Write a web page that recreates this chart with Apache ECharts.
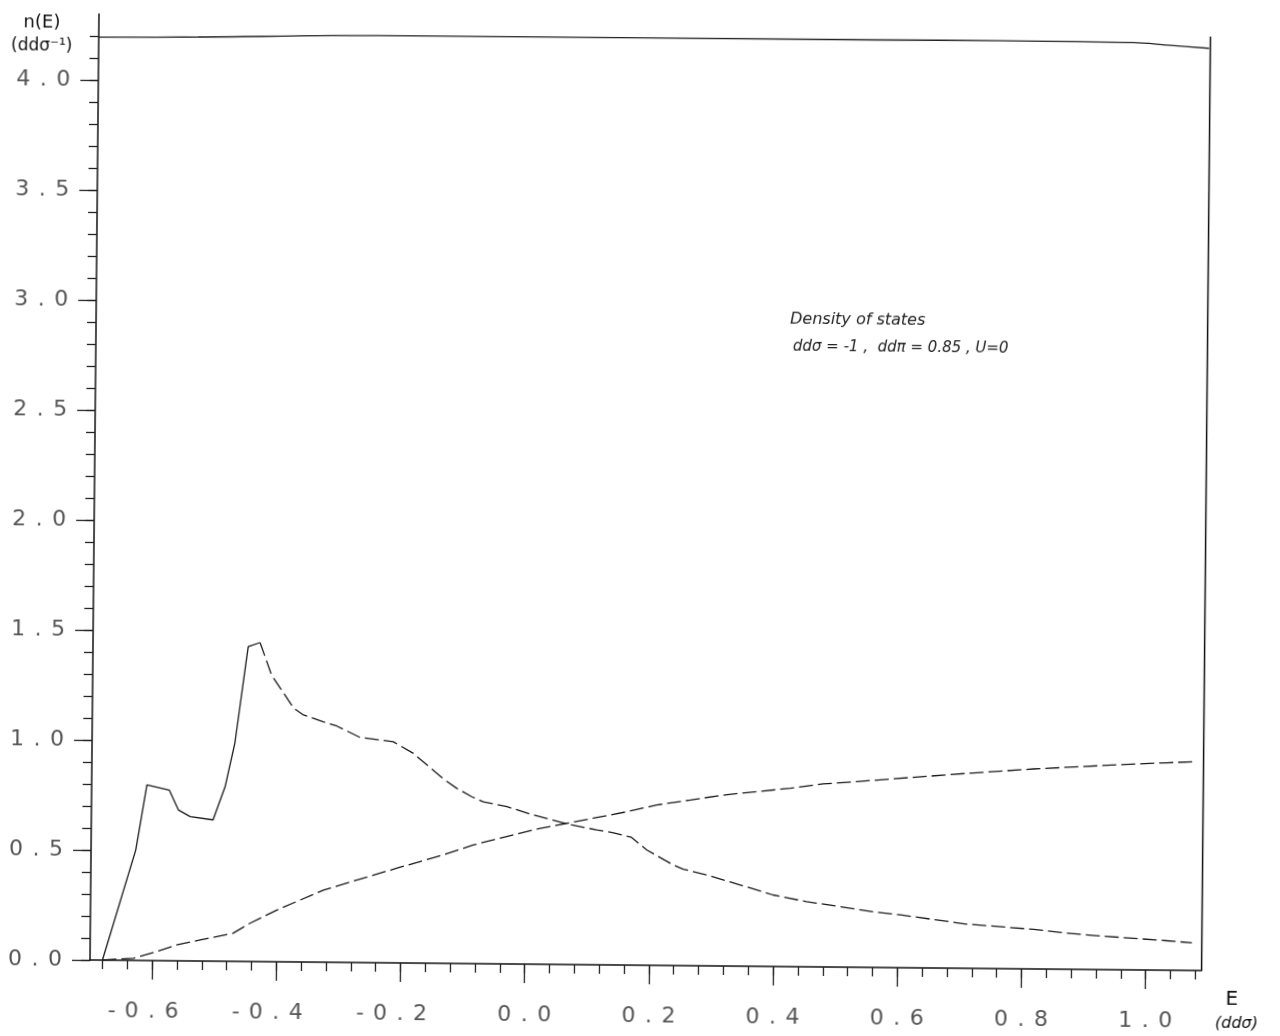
<!DOCTYPE html>
<html>
<head>
<meta charset="utf-8">
<script src="https://cdn.jsdelivr.net/npm/echarts@6/dist/echarts.min.js"></script>
<style>
html,body{margin:0;padding:0;background:#fff;overflow:hidden;}
#chart{width:1280px;height:1036px;transform:rotate(0.544deg);transform-origin:90px 960px;}
</style>
</head>
<body>
<div id="chart"></div>
<script>
// ---- data ----
const energy1 = [-0.680,-0.628,-0.611,-0.575,-0.560,-0.541,-0.504,-0.485,-0.470,-0.450,-0.431,-0.412,-0.376,-0.360,-0.328,-0.306,-0.269,-0.215,-0.183,-0.133,-0.112,-0.088,-0.069,-0.031,0.012,0.066,0.114,0.141,0.170,0.195,0.238,0.254,0.292,0.346,0.399,0.453,0.507,0.561,0.604,0.711,0.819,0.872,0.926,1.033,1.074];
const dos1    = [0.000,0.502,0.798,0.776,0.686,0.656,0.642,0.794,0.993,1.431,1.450,1.303,1.154,1.123,1.093,1.074,1.024,1.005,0.954,0.837,0.796,0.759,0.736,0.715,0.678,0.639,0.613,0.601,0.581,0.524,0.457,0.438,0.413,0.369,0.325,0.296,0.275,0.253,0.240,0.201,0.180,0.164,0.153,0.134,0.126];
const peakIndex = 10;

const energy2 = [-0.680,-0.630,-0.593,-0.561,-0.523,-0.470,-0.443,-0.400,-0.325,-0.208,-0.133,-0.085,-0.031,0.023,0.066,0.108,0.162,0.210,0.264,0.317,0.371,0.425,0.478,0.532,0.586,0.709,0.816,0.924,1.031,1.074];
const dos2    = [0.000,0.010,0.041,0.072,0.096,0.128,0.174,0.235,0.328,0.430,0.493,0.539,0.579,0.618,0.642,0.666,0.697,0.729,0.753,0.777,0.794,0.811,0.832,0.844,0.857,0.886,0.909,0.927,0.943,0.949];

const energyTop = [-0.700,-0.540,-0.250,0.550,0.751,0.966,1.020,1.088];
const valueTop  = [4.195,4.200,4.214,4.216,4.218,4.215,4.205,4.192];

const frameEnergy = 1.09;
const frameTop = 4.245;

const xMajorTicks = [-0.6,-0.4,-0.2,0.0,0.2,0.4,0.6,0.8,1.0];
const yMajorTicks = [0.0,0.5,1.0,1.5,2.0,2.5,3.0,3.5,4.0];
const xMin = -0.7, xMax = 1.09, yMin = 0, yMax = 4.3;

// ---- helpers ----
const zip = (a, b) => a.map((v, i) => [v, b[i]]);
const xMinor = []; for (let i = -17; i <= 27; i++) xMinor.push(Math.round(i * 4) / 100);
const yMinor = []; for (let i = 0; i <= 42; i++) yMinor.push(i / 10);

function spaced(v) {
  const s = Number(v).toFixed(1);
  let out = '';
  for (const ch of s) out += '{c|' + ch + '}';
  if (s[0] === '-') out += '{c| }';
  return out;
}
const labelRich = { c: { width: 20, align: 'center', fontSize: 22, fontFamily: 'DejaVu Sans', color: '#555' } };

const ink = '#1a1a1a';
const axisLine = { show: true, onZero: false, lineStyle: { color: '#111', width: 1.5 } };
const tickStyle = { color: '#222', width: 1.3 };

const curve1 = zip(energy1, dos1);

const option = {
  animation: false,
  backgroundColor: '#fff',
  grid: { left: 90, top: 14, width: 1111.6, height: 946, containLabel: false, outerBoundsMode: 'none' },
  xAxis: [
    { type: 'value', min: xMin, max: xMax, position: 'bottom', axisLine: axisLine,
      axisTick: { show: true, inside: false, length: 9, customValues: xMinor, lineStyle: tickStyle },
      axisLabel: { show: false }, splitLine: { show: false } },
    { type: 'value', min: xMin, max: xMax, position: 'bottom', axisLine: { show: false, onZero: false },
      axisTick: { show: true, inside: false, length: 19, customValues: xMajorTicks, lineStyle: tickStyle },
      axisLabel: { show: true, customValues: xMajorTicks, margin: 40, formatter: spaced, rich: labelRich },
      splitLine: { show: false } }
  ],
  yAxis: [
    { type: 'value', min: yMin, max: yMax, position: 'left', axisLine: axisLine,
      axisTick: { show: true, inside: false, length: 9, customValues: yMinor, lineStyle: tickStyle },
      axisLabel: { show: false }, splitLine: { show: false } },
    { type: 'value', min: yMin, max: yMax, position: 'left', axisLine: { show: false, onZero: false },
      axisTick: { show: true, inside: false, length: 18, customValues: yMajorTicks, lineStyle: tickStyle },
      axisLabel: { show: true, customValues: yMajorTicks, margin: 25, formatter: spaced, rich: labelRich },
      splitLine: { show: false } }
  ],
  series: [
    { name: 'n(E) rising', type: 'line', xAxisIndex: 0, yAxisIndex: 0, showSymbol: false, symbol: 'none',
      data: curve1.slice(0, peakIndex + 1), lineStyle: { color: ink, width: 1.3, type: 'solid' } },
    { name: 'n(E) falling', type: 'line', xAxisIndex: 0, yAxisIndex: 0, showSymbol: false, symbol: 'none',
      data: curve1.slice(peakIndex), lineStyle: { color: ink, width: 1.3, type: [14, 5] } },
    { name: 'second', type: 'line', xAxisIndex: 0, yAxisIndex: 0, showSymbol: false, symbol: 'none',
      data: zip(energy2, dos2), lineStyle: { color: ink, width: 1.3, type: [14, 5] } },
    { name: 'top', type: 'line', xAxisIndex: 0, yAxisIndex: 0, showSymbol: false, symbol: 'none', smooth: 0.3,
      data: zip(energyTop, valueTop), lineStyle: { color: '#222', width: 1.3 } },
    { name: 'frame', type: 'line', xAxisIndex: 0, yAxisIndex: 0, showSymbol: false, symbol: 'none',
      data: [[frameEnergy, 0], [frameEnergy, frameTop]], lineStyle: { color: '#111', width: 1.5 } }
  ],
  graphic: [
    { type: 'text', x: 33, y: 23, style: { text: 'n(E)', font: '18px "DejaVu Sans"', fill: '#111', align: 'center', verticalAlign: 'middle', textAlign: 'center', textVerticalAlign: 'middle' } },
    { type: 'text', x: 33, y: 47, style: { text: '(ddσ\u207B\u00B9)', font: '17px "DejaVu Sans"', fill: '#111', align: 'center', verticalAlign: 'middle', textAlign: 'center', textVerticalAlign: 'middle' } },
    { type: 'text', x: 784, y: 313, style: { text: 'Density of states', font: 'italic 16px "DejaVu Sans"', fill: '#222', align: 'left', verticalAlign: 'middle', textAlign: 'left', textVerticalAlign: 'middle' } },
    { type: 'text', x: 787, y: 340, style: { text: 'ddσ = -1 ,  ddπ = 0.85 , U=0', font: 'italic 15px "DejaVu Sans"', fill: '#222', align: 'left', verticalAlign: 'middle', textAlign: 'left', textVerticalAlign: 'middle' } },
    { type: 'text', x: 1232, y: 989, style: { text: 'E', font: '20px "DejaVu Sans"', fill: '#111', align: 'center', verticalAlign: 'middle', textAlign: 'center', textVerticalAlign: 'middle' } },
    { type: 'text', x: 1237, y: 1013, style: { text: '(ddσ)', font: 'italic 16px "DejaVu Sans"', fill: '#111', align: 'center', verticalAlign: 'middle', textAlign: 'center', textVerticalAlign: 'middle' } }
  ]
};

const chart = echarts.init(document.getElementById('chart'), null, { renderer: 'canvas' });
chart.setOption(option);
</script>
</body>
</html>
